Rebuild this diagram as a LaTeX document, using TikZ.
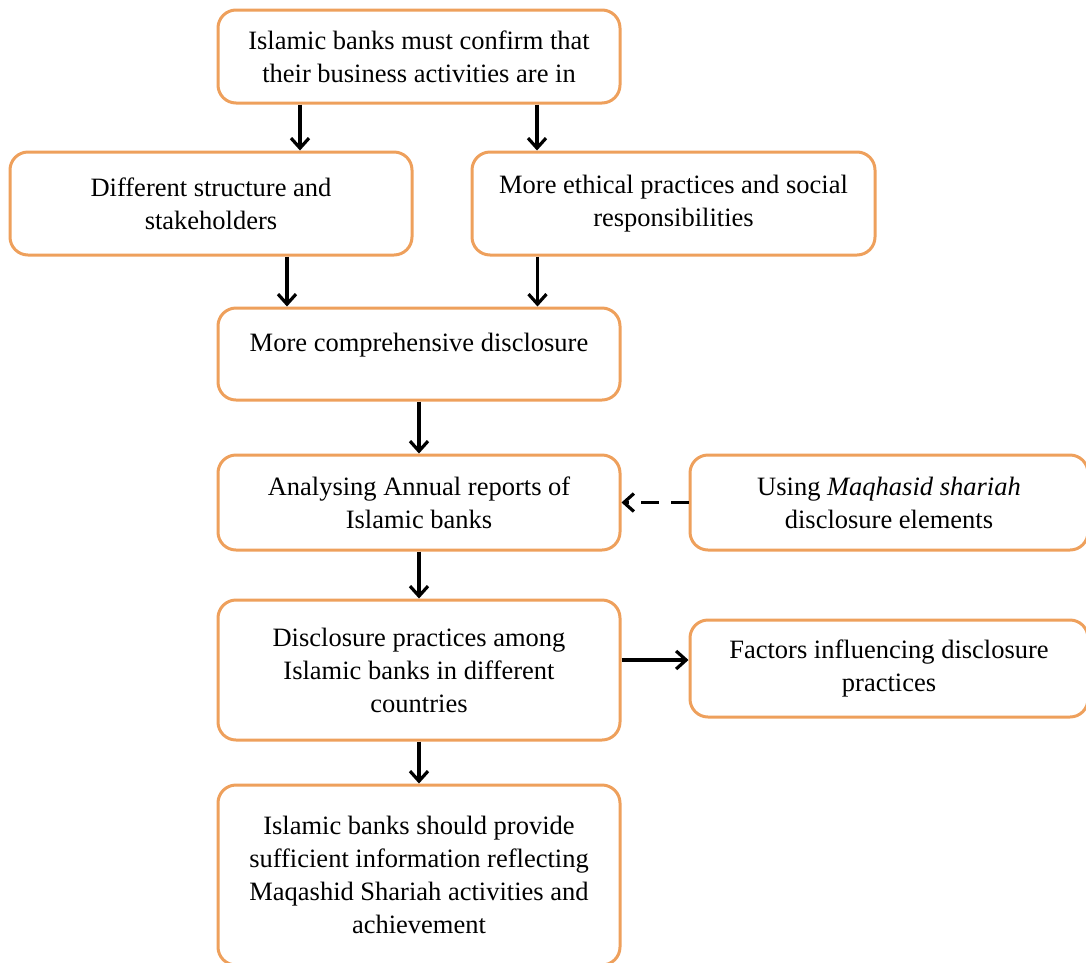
\documentclass[tikz,border=0pt]{standalone}
\usepackage{fontspec}
\setmainfont{Liberation Serif}
\usetikzlibrary{arrows.meta}
\definecolor{boxorange}{RGB}{238,160,92}

\begin{document}
\begin{tikzpicture}[x=1pt,y=-1pt,
  box/.style={draw=boxorange, line width=3pt, rounded corners=18pt, fill=white,
    align=center, inner sep=0pt, font=\fontsize{26.5}{33}\selectfont},
  arr/.style={line width=3.2pt, -{Straight Barb[length=10pt,width=18pt,line width=3.2pt]}}]
\useasboundingbox (0,0) rectangle (1086,962);

\node[box, minimum width=402pt, minimum height=93pt] (top) at (419,56.5)
  {Islamic banks must confirm that\\their business activities are in};
\node[box, minimum width=402pt, minimum height=103pt] (lft) at (211,203.5)
  {Different structure and\\stakeholders};
\node[box, minimum width=403pt, minimum height=103pt] (rgt) at (673.5,203.5)
  {More ethical practices and social\\responsibilities};
\node[box, minimum width=402pt, minimum height=92pt] (comp) at (419,354)
  {\raisebox{9pt}[\height][\depth]{More comprehensive disclosure}};
\node[box, minimum width=402pt, minimum height=95pt] (anal) at (419,502.5)
  {Analysing Annual reports of\\Islamic banks};
\node[box, minimum width=398pt, minimum height=95pt] (msh) at (889,502.5)
  {Using \textit{Maqhasid shariah}\\disclosure elements};
\node[box, minimum width=402pt, minimum height=140pt] (disc) at (419,670)
  {Disclosure practices among\\Islamic banks in different\\countries};
\node[box, minimum width=398pt, minimum height=97pt] (fact) at (889,668.5)
  {Factors influencing disclosure\\practices};
\node[box, minimum width=402pt, minimum height=180pt] (suff) at (419,875)
  {Islamic banks should provide\\sufficient information reflecting\\Maqashid Shariah activities and\\achievement};

\draw[arr] ([xshift=-119pt]top.south) -- ([xshift=-119pt]top.south |- lft.north);
\draw[arr] ([xshift=118pt]top.south) -- ([xshift=118pt]top.south |- rgt.north);
\draw[arr] ([xshift=76pt]lft.south) -- ([xshift=76pt]lft.south |- comp.north);
\draw[arr] ([xshift=-136pt]rgt.south) -- ([xshift=-136pt]rgt.south |- comp.north);
\draw[arr] (comp.south) -- (anal.north);
\draw[arr, dash pattern=on 18pt off 12pt] (msh.west) -- (anal.east);
\draw[arr] (anal.south) -- (disc.north);
\draw[arr] ([yshift=10pt]disc.east) -- ([yshift=10pt]disc.east -| fact.west);
\draw[arr] (disc.south) -- (suff.north);

\end{tikzpicture}
\end{document}
